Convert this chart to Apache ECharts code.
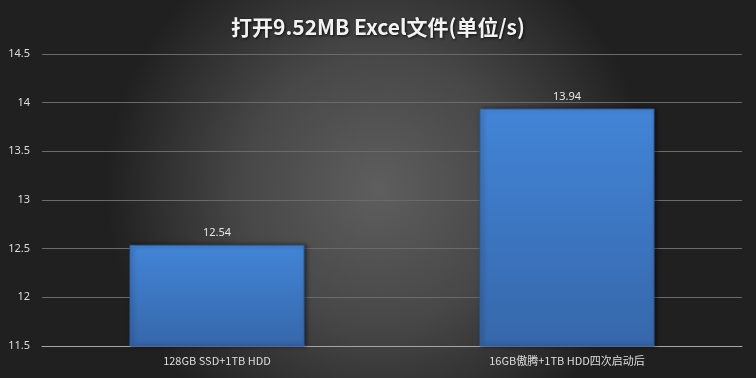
<!DOCTYPE html>
<html><head><meta charset="utf-8">
<script src="https://cdn.jsdelivr.net/npm/echarts@6/dist/echarts.min.js"></script>
<style>html,body{margin:0;padding:0;background:#333;}#c{width:756px;height:378px;}</style>
</head><body><div id="c"></div>
<script>
const titleText = '打开9.52MB Excel文件(单位/s)';
const categories = ['128GB SSD+1TB HDD', '16GB傲腾+1TB HDD四次启动后'];
const values = [12.54, 13.94];
const yTicks = [11.5, 12, 12.5, 13, 13.5, 14, 14.5];

const chart = echarts.init(document.getElementById('c'));
chart.setOption({
  backgroundColor: {
    type: 'radial', x: 0.5, y: 0.5, r: 0.72,
    colorStops: [{offset: 0, color: '#5e5e5e'}, {offset: 0.5, color: '#474747'}, {offset: 1, color: '#202020'}]
  },
  animation: false,
  title: {
    text: titleText, left: 'center', top: 12,
    textStyle: {color: '#f2f2f2', fontSize: 21, fontWeight: 'bold', fontFamily: 'Noto Sans CJK SC',
      textShadowColor: 'rgba(0,0,0,0.8)', textShadowBlur: 3, textShadowOffsetX: 1, textShadowOffsetY: 1}
  },
  grid: {left: 42, right: 14, top: 54, bottom: 32, containLabel: false},
  xAxis: {
    type: 'category', data: categories,
    axisLine: {lineStyle: {color: '#a6a6a6', width: 1}},
    axisTick: {show: false},
    axisLabel: {color: '#dddddd', fontSize: 11, fontFamily: 'Noto Sans CJK SC', margin: 9}
  },
  yAxis: {
    type: 'value', min: yTicks[0], max: yTicks[yTicks.length - 1], interval: 0.5,
    axisLine: {show: false}, axisTick: {show: false},
    axisLabel: {color: '#dddddd', fontSize: 11, fontFamily: 'Noto Sans', margin: 12},
    splitLine: {lineStyle: {color: '#6a6a6a', width: 1}}
  },
  series: [{
    type: 'bar', data: values, barWidth: '50%',
    itemStyle: {
      color: {type: 'linear', x: 0, y: 0, x2: 0, y2: 1,
        colorStops: [{offset: 0, color: '#4a8ce0'}, {offset: 0.02, color: '#4284d6'}, {offset: 1, color: '#3667aa'}]},
      borderColor: '#2e5d9e', borderWidth: 1,
      shadowColor: 'rgba(0,0,0,0.5)', shadowBlur: 4, shadowOffsetX: 2, shadowOffsetY: 0
    },
    label: {show: true, position: 'top', distance: 6, color: '#e6e6e6', fontSize: 11, fontFamily: 'Noto Sans'}
  }]
});
</script></body></html>
